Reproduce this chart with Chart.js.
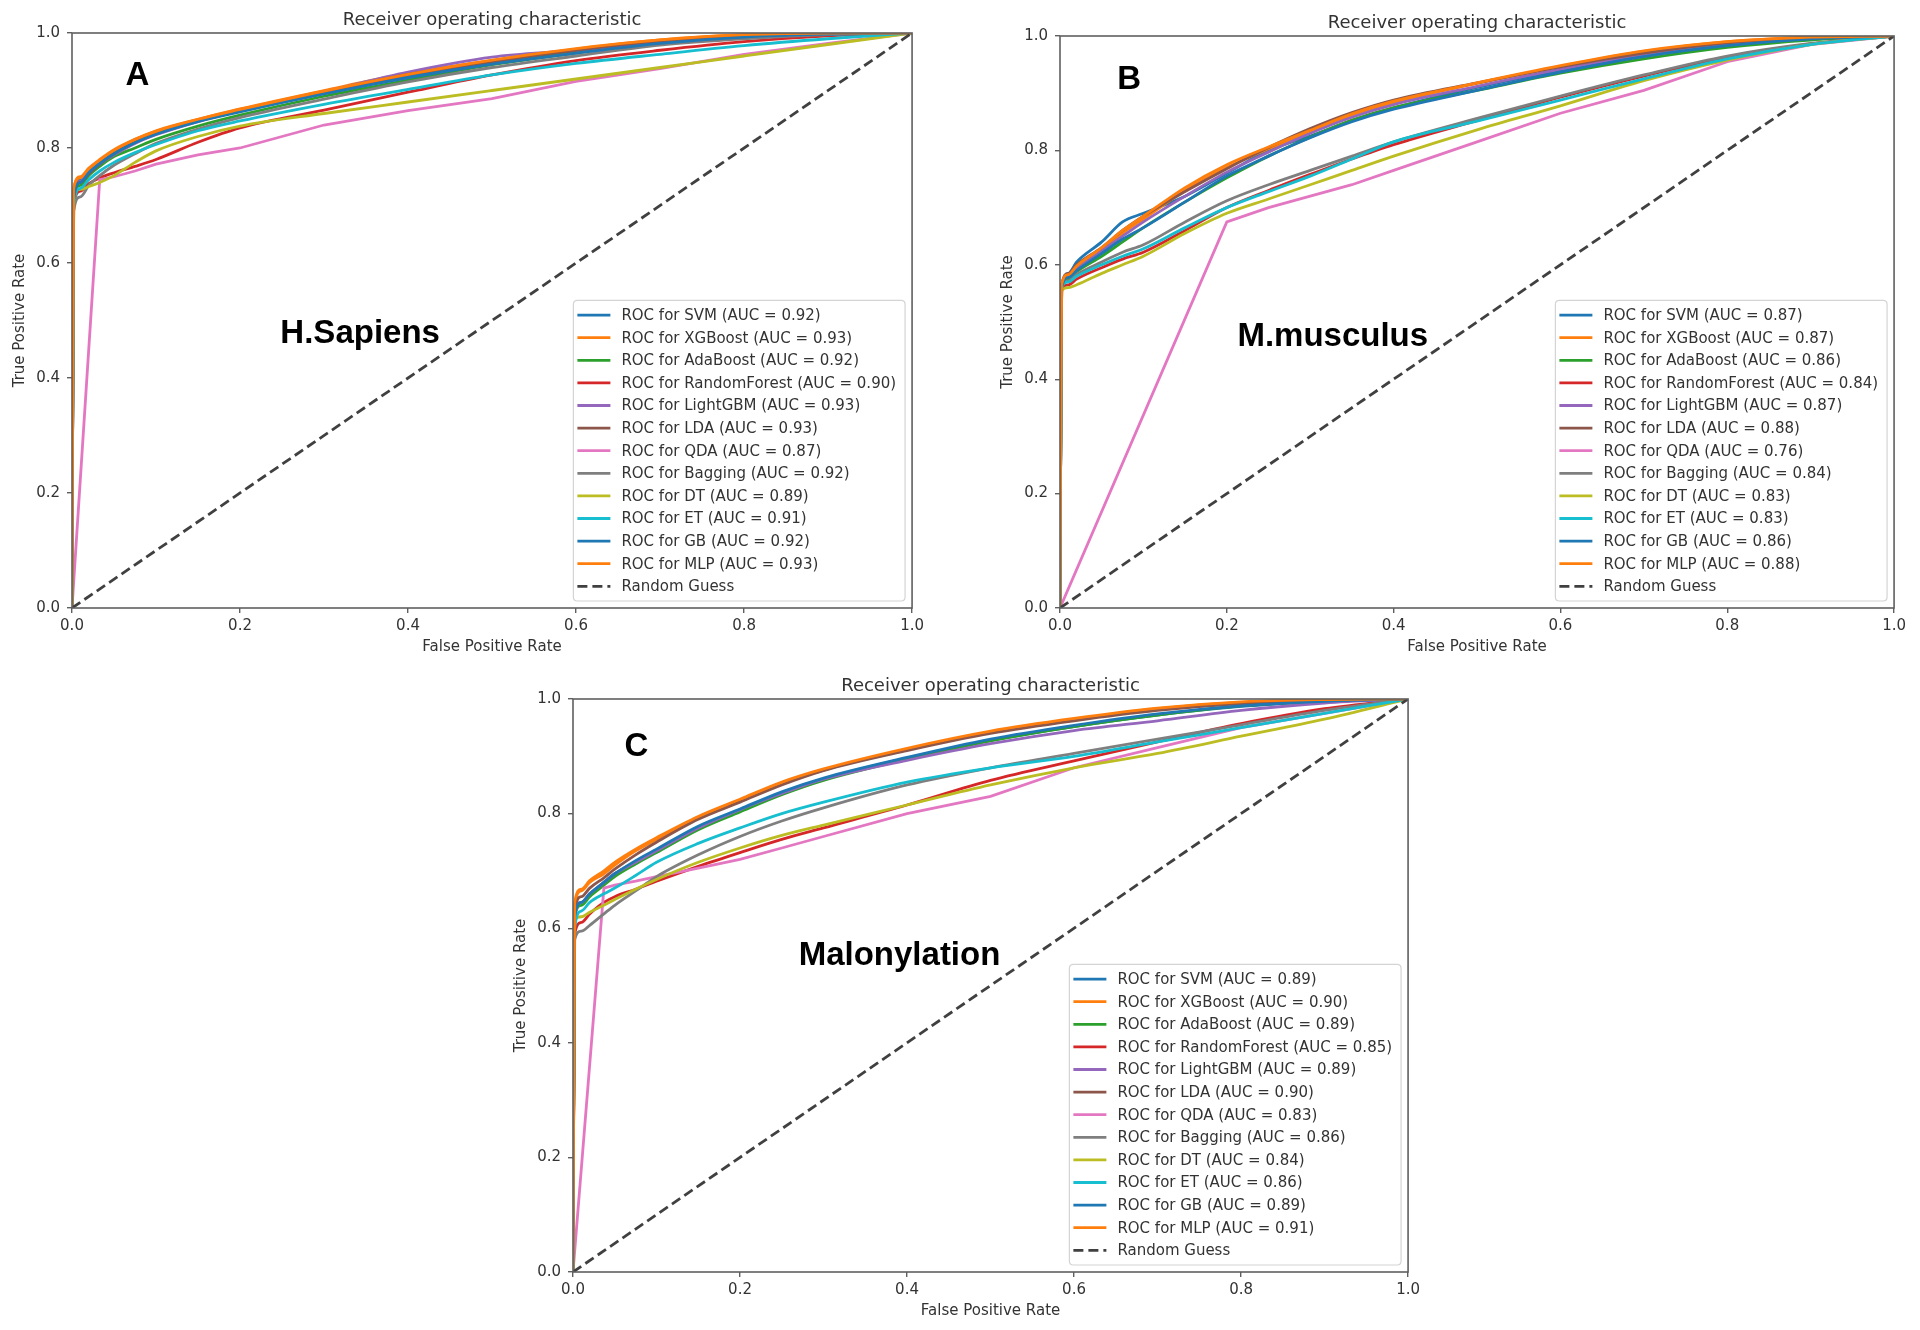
<!DOCTYPE html>
<html><head><meta charset="utf-8">
<style>
html,body{margin:0;padding:0;background:#fff;width:1920px;height:1330px;overflow:hidden;}
canvas{position:absolute;}
</style>
<script src="https://cdn.jsdelivr.net/npm/chart.js"></script>
</head><body>
<canvas id="cA"></canvas><canvas id="cB"></canvas><canvas id="cC"></canvas>
<script>
// ---------- data ----------
const MODELS = ['SVM','XGBoost','AdaBoost','RandomForest','LightGBM','LDA','QDA','Bagging','DT','ET','GB','MLP'];
const AUC_A = [0.92,0.93,0.92,0.90,0.93,0.93,0.87,0.92,0.89,0.91,0.92,0.93];
const AUC_B = [0.87,0.87,0.86,0.84,0.87,0.88,0.76,0.84,0.83,0.83,0.86,0.88];
const AUC_C = [0.89,0.90,0.89,0.85,0.89,0.90,0.83,0.86,0.84,0.86,0.89,0.91];
const AXIS_TICKS = [0, 0.2, 0.4, 0.6, 0.8, 1.0];
const GUESS_X = [0, 1];
const GUESS_Y = [0, 1];

// Panel A: H.Sapiens
const fprA = [0, 0.002, 0.01, 0.02, 0.033, 0.05, 0.075, 0.1, 0.15, 0.2, 0.3, 0.4, 0.5, 0.6, 0.7, 0.8, 0.9, 1];
const A_SVM  = [0, 0.72, 0.745, 0.76, 0.775, 0.79, 0.81, 0.825, 0.848, 0.865, 0.895, 0.925, 0.948, 0.967, 0.984, 0.995, 0.999, 1];
const A_XGB  = [0, 0.73, 0.748, 0.762, 0.778, 0.795, 0.815, 0.83, 0.85, 0.868, 0.9, 0.93, 0.952, 0.972, 0.988, 0.997, 1, 1];
const A_ADA  = [0, 0.71, 0.735, 0.752, 0.768, 0.785, 0.8, 0.815, 0.838, 0.857, 0.89, 0.918, 0.945, 0.965, 0.982, 0.993, 0.998, 1];
const A_RF   = [0, 0.7, 0.725, 0.738, 0.748, 0.757, 0.768, 0.78, 0.81, 0.835, 0.866, 0.897, 0.927, 0.952, 0.97, 0.985, 0.995, 1];
const A_LGBM = [0, 0.72, 0.742, 0.757, 0.772, 0.788, 0.808, 0.823, 0.846, 0.865, 0.898, 0.932, 0.958, 0.97, 0.985, 0.995, 0.999, 1];
const A_LDA  = [0, 0.72, 0.74, 0.755, 0.772, 0.79, 0.81, 0.826, 0.847, 0.864, 0.897, 0.928, 0.95, 0.97, 0.986, 0.996, 1, 1];
const A_QDA  = [0, null, null, null, 0.745, 0.75, 0.76, 0.772, 0.788, 0.8, 0.84, 0.865, 0.886, 0.916, 0.938, 0.963, 0.982, 1];
const A_BAG  = [0, 0.69, 0.715, 0.735, 0.752, 0.77, 0.79, 0.808, 0.833, 0.853, 0.885, 0.915, 0.94, 0.96, 0.979, 0.99, 0.997, 1];
const A_DT   = [0, 0.72, 0.728, 0.733, 0.74, 0.752, 0.775, 0.795, 0.82, 0.838, 0.86, 0.88, 0.9, 0.92, 0.94, 0.96, 0.98, 1];
const A_ET   = [0, 0.7, 0.73, 0.745, 0.76, 0.775, 0.792, 0.806, 0.83, 0.847, 0.876, 0.902, 0.927, 0.947, 0.963, 0.978, 0.99, 1];
const A_GB   = [0, 0.71, 0.74, 0.757, 0.773, 0.79, 0.809, 0.824, 0.846, 0.863, 0.894, 0.922, 0.946, 0.965, 0.982, 0.993, 0.998, 1];
const A_MLP  = [0, 0.73, 0.75, 0.765, 0.78, 0.797, 0.815, 0.829, 0.85, 0.867, 0.899, 0.928, 0.953, 0.973, 0.988, 0.997, 1, 1];

// Panel B: M.musculus
const fprB = [0, 0.002, 0.01, 0.02, 0.05, 0.075, 0.1, 0.15, 0.2, 0.25, 0.3, 0.35, 0.4, 0.5, 0.6, 0.7, 0.8, 0.9, 1];
const B_SVM  = [0, 0.56, 0.585, 0.605, 0.64, 0.675, 0.69, 0.72, 0.76, 0.8, 0.825, 0.852, 0.874, 0.91, 0.94, 0.966, 0.985, 0.996, 1];
const B_XGB  = [0, 0.565, 0.58, 0.595, 0.625, 0.655, 0.68, 0.73, 0.77, 0.803, 0.833, 0.862, 0.884, 0.917, 0.947, 0.973, 0.99, 0.998, 1];
const B_ADA  = [0, 0.56, 0.575, 0.588, 0.615, 0.64, 0.665, 0.71, 0.752, 0.79, 0.823, 0.853, 0.875, 0.905, 0.935, 0.96, 0.98, 0.993, 1];
const B_RF   = [0, 0.555, 0.565, 0.575, 0.595, 0.61, 0.622, 0.66, 0.7, 0.73, 0.758, 0.785, 0.81, 0.852, 0.893, 0.93, 0.962, 0.986, 1];
const B_LGBM = [0, 0.56, 0.58, 0.595, 0.625, 0.65, 0.675, 0.72, 0.762, 0.797, 0.83, 0.858, 0.88, 0.912, 0.942, 0.968, 0.986, 0.997, 1];
const B_LDA  = [0, 0.565, 0.585, 0.6, 0.63, 0.66, 0.685, 0.728, 0.768, 0.805, 0.838, 0.866, 0.888, 0.918, 0.946, 0.97, 0.988, 0.997, 1];
const B_QDA  = [0, null, null, null, null, null, null, null, 0.675, 0.7, 0.72, 0.74, 0.765, 0.815, 0.865, 0.905, 0.955, 0.985, 1];
const B_BAG  = [0, 0.56, 0.572, 0.583, 0.605, 0.622, 0.635, 0.675, 0.712, 0.74, 0.765, 0.79, 0.815, 0.856, 0.895, 0.932, 0.965, 0.987, 1];
const B_DT   = [0, 0.555, 0.56, 0.565, 0.585, 0.6, 0.615, 0.655, 0.69, 0.715, 0.74, 0.765, 0.79, 0.836, 0.878, 0.922, 0.958, 0.985, 1];
const B_ET   = [0, 0.56, 0.57, 0.58, 0.6, 0.615, 0.628, 0.665, 0.7, 0.728, 0.755, 0.785, 0.815, 0.851, 0.888, 0.925, 0.96, 0.985, 1];
const B_GB   = [0, 0.56, 0.578, 0.59, 0.62, 0.645, 0.665, 0.71, 0.755, 0.79, 0.822, 0.85, 0.872, 0.905, 0.937, 0.964, 0.983, 0.995, 1];
const B_MLP  = [0, 0.565, 0.583, 0.598, 0.63, 0.66, 0.685, 0.735, 0.775, 0.806, 0.835, 0.864, 0.886, 0.918, 0.948, 0.974, 0.99, 0.998, 1];

// Panel C: Malonylation
const fprC = [0, 0.002, 0.01, 0.02, 0.037, 0.05, 0.075, 0.1, 0.15, 0.2, 0.25, 0.3, 0.4, 0.5, 0.6, 0.7, 0.8, 0.9, 1];
const C_SVM  = [0, 0.62, 0.645, 0.66, 0.68, 0.695, 0.715, 0.735, 0.775, 0.805, 0.835, 0.86, 0.897, 0.928, 0.952, 0.972, 0.987, 0.996, 1];
const C_XGB  = [0, 0.64, 0.665, 0.68, 0.695, 0.71, 0.735, 0.755, 0.793, 0.822, 0.852, 0.876, 0.912, 0.942, 0.964, 0.983, 0.994, 0.998, 1];
const C_ADA  = [0, 0.62, 0.64, 0.655, 0.675, 0.69, 0.712, 0.732, 0.772, 0.803, 0.833, 0.858, 0.895, 0.927, 0.952, 0.972, 0.988, 0.996, 1];
const C_RF   = [0, 0.59, 0.61, 0.625, 0.645, 0.655, 0.668, 0.682, 0.708, 0.732, 0.755, 0.775, 0.815, 0.858, 0.892, 0.925, 0.957, 0.983, 1];
const C_LGBM = [0, 0.62, 0.645, 0.66, 0.68, 0.695, 0.715, 0.735, 0.775, 0.807, 0.835, 0.86, 0.893, 0.922, 0.945, 0.962, 0.98, 0.993, 1];
const C_LDA  = [0, 0.63, 0.655, 0.67, 0.688, 0.703, 0.728, 0.75, 0.79, 0.82, 0.85, 0.875, 0.91, 0.94, 0.962, 0.98, 0.992, 0.998, 1];
const C_QDA  = [0, null, null, null, 0.67, 0.675, 0.682, 0.69, 0.705, 0.72, 0.74, 0.76, 0.8, 0.83, 0.88, 0.915, 0.95, 0.975, 1];
const C_BAG  = [0, 0.58, 0.595, 0.605, 0.625, 0.64, 0.665, 0.69, 0.728, 0.76, 0.787, 0.81, 0.85, 0.88, 0.905, 0.93, 0.955, 0.98, 1];
const C_DT   = [0, 0.615, 0.62, 0.628, 0.64, 0.65, 0.668, 0.685, 0.715, 0.74, 0.762, 0.78, 0.815, 0.85, 0.88, 0.905, 0.935, 0.965, 1];
const C_ET   = [0, 0.6, 0.63, 0.645, 0.66, 0.67, 0.692, 0.715, 0.748, 0.775, 0.8, 0.82, 0.855, 0.88, 0.9, 0.925, 0.95, 0.975, 1];
const C_GB   = [0, 0.62, 0.645, 0.66, 0.68, 0.695, 0.718, 0.738, 0.778, 0.808, 0.838, 0.862, 0.898, 0.93, 0.954, 0.974, 0.988, 0.996, 1];
const C_MLP  = [0, 0.645, 0.668, 0.683, 0.7, 0.715, 0.738, 0.758, 0.795, 0.825, 0.855, 0.878, 0.914, 0.944, 0.966, 0.984, 0.995, 0.999, 1];

// ---------- styling ----------
const TEXT = '#333333';
const AXIS = '#5f5f5f';
const COLORS = ['#1f77b4','#ff7f0e','#2ca02c','#d62728','#9467bd','#8c564b','#e377c2','#7f7f7f','#bcbd22','#17becf','#1f77b4','#ff7f0e'];
const STRAIGHT_MODEL = 'QDA';

Chart.defaults.font.family = '"DejaVu Sans", sans-serif';
Chart.defaults.color = TEXT;

function buildDatasets(fpr, series, aucs) {
  const ds = series.map((tpr, i) => {
    const straight = MODELS[i] === STRAIGHT_MODEL;
    return {
      label: 'ROC for ' + MODELS[i] + ' (AUC = ' + aucs[i].toFixed(2) + ')',
      data: fpr.map((x, j) => ({x: x, y: tpr[j]})),
      borderColor: COLORS[i],
      backgroundColor: COLORS[i],
      borderWidth: 2.8,
      pointRadius: 0,
      fill: false,
      spanGaps: true,
      cubicInterpolationMode: straight ? 'default' : 'monotone',
      tension: 0,
      order: 30 - i
    };
  });
  ds.push({
    label: 'Random Guess',
    data: GUESS_X.map((x, j) => ({x: x, y: GUESS_Y[j]})),
    borderColor: '#404040',
    borderDash: [10, 5],
    borderWidth: 2.8,
    pointRadius: 0,
    fill: false,
    tension: 0,
    order: 0
  });
  return ds;
}

const decor = {
  id: 'decor',
  afterDatasetsDraw(chart, args, o) {
    const {ctx, chartArea: a} = chart;
    ctx.save();
    ctx.strokeStyle = AXIS;
    ctx.lineWidth = 1.6;
    ctx.strokeRect(a.left, a.top, a.right - a.left, a.bottom - a.top);
    ctx.restore();
  },
  afterDraw(chart, args, o) {
    const {ctx, chartArea: a} = chart;
    const sx = chart.scales.x, sy = chart.scales.y;
    ctx.save();
    // title
    ctx.fillStyle = TEXT;
    ctx.font = '18px "DejaVu Sans"';
    ctx.textAlign = 'center';
    ctx.textBaseline = 'middle';
    ctx.fillText(o.title, (a.left + a.right) / 2, a.top - 13);
    // panel letter and name
    ctx.fillStyle = '#000';
    ctx.font = 'bold 33px "Liberation Sans"';
    ctx.fillText(o.letter, sx.getPixelForValue(o.letterAt[0]), sy.getPixelForValue(o.letterAt[1]));
    ctx.fillText(o.name, sx.getPixelForValue(o.nameAt[0]), sy.getPixelForValue(o.nameAt[1]));
    // legend
    const items = chart.data.datasets;
    ctx.font = '15px "DejaVu Sans"';
    let maxW = 0;
    items.forEach(d => { maxW = Math.max(maxW, ctx.measureText(d.label).width); });
    const pitch = 22.6, padTop = 14.7;
    const w = 48 + maxW + 9;
    const h = padTop * 2 + pitch * (items.length - 1);
    const bx = a.right - 7 - w, by = a.bottom - 7 - h;
    const r = 4;
    ctx.beginPath();
    ctx.moveTo(bx + r, by);
    ctx.lineTo(bx + w - r, by);
    ctx.quadraticCurveTo(bx + w, by, bx + w, by + r);
    ctx.lineTo(bx + w, by + h - r);
    ctx.quadraticCurveTo(bx + w, by + h, bx + w - r, by + h);
    ctx.lineTo(bx + r, by + h);
    ctx.quadraticCurveTo(bx, by + h, bx, by + h - r);
    ctx.lineTo(bx, by + r);
    ctx.quadraticCurveTo(bx, by, bx + r, by);
    ctx.closePath();
    ctx.fillStyle = 'rgba(255,255,255,0.85)';
    ctx.fill();
    ctx.strokeStyle = '#d4d4d4';
    ctx.lineWidth = 1.2;
    ctx.stroke();
    ctx.textAlign = 'left';
    ctx.textBaseline = 'middle';
    items.forEach((d, i) => {
      const cy = by + padTop + i * pitch;
      ctx.beginPath();
      ctx.setLineDash(d.borderDash || []);
      ctx.strokeStyle = d.borderColor;
      ctx.lineWidth = d.borderWidth;
      ctx.moveTo(bx + 4, cy);
      ctx.lineTo(bx + 37, cy);
      ctx.stroke();
      ctx.setLineDash([]);
      ctx.fillStyle = TEXT;
      ctx.fillText(d.label, bx + 48, cy + 1);
    });
    ctx.restore();
  }
};

function makeChart(id, pos, fpr, series, aucs, decorOpts) {
  const cv = document.getElementById(id);
  const W = pos.w + 72 + 14, H = pos.h + 33 + 60;
  cv.width = W; cv.height = H;
  cv.style.left = (pos.left - 72) + 'px';
  cv.style.top = (pos.top - 33) + 'px';
  cv.style.width = W + 'px';
  cv.style.height = H + 'px';
  const tickCfg = {
    stepSize: 0.2,
    callback: v => Number(v).toFixed(1),
    font: {size: 15},
    color: TEXT,
    maxRotation: 0,
    autoSkip: false
  };
  new Chart(cv, {
    type: 'line',
    data: {datasets: buildDatasets(fpr, series, aucs)},
    options: {
      responsive: false,
      animation: false,
      devicePixelRatio: 1,
      layout: {padding: {left: 0, top: 33, right: 14, bottom: 0}},
      plugins: {legend: {display: false}, tooltip: {enabled: false}, decor: decorOpts},
      scales: {
        x: {
          type: 'linear', min: AXIS_TICKS[0], max: AXIS_TICKS[AXIS_TICKS.length - 1],
          ticks: Object.assign({}, tickCfg, {padding: 4}),
          grid: {drawOnChartArea: false, tickLength: 5, color: AXIS, lineWidth: 1.4},
          border: {display: false},
          title: {display: true, text: 'False Positive Rate', font: {size: 15}, color: TEXT, padding: {top: 0, bottom: 12}},
          afterFit: s => { s.height = 60; }
        },
        y: {
          type: 'linear', min: AXIS_TICKS[0], max: AXIS_TICKS[AXIS_TICKS.length - 1],
          ticks: Object.assign({}, tickCfg, {padding: 7}),
          grid: {drawOnChartArea: false, tickLength: 5, color: AXIS, lineWidth: 1.4},
          border: {display: false},
          title: {display: true, text: 'True Positive Rate', font: {size: 15}, color: TEXT, padding: {top: 11, bottom: 0}},
          afterFit: s => { s.width = 72; }
        }
      }
    },
    plugins: [decor]
  });
}

const TITLE = 'Receiver operating characteristic';
makeChart('cA', {left: 72, top: 33, w: 842, h: 575}, fprA,
  [A_SVM, A_XGB, A_ADA, A_RF, A_LGBM, A_LDA, A_QDA, A_BAG, A_DT, A_ET, A_GB, A_MLP], AUC_A,
  {title: TITLE, letter: 'A', letterAt: [0.078, 0.925], name: 'H.Sapiens', nameAt: [0.343, 0.4765]});
makeChart('cB', {left: 1060, top: 36, w: 836, h: 572}, fprB,
  [B_SVM, B_XGB, B_ADA, B_RF, B_LGBM, B_LDA, B_QDA, B_BAG, B_DT, B_ET, B_GB, B_MLP], AUC_B,
  {title: TITLE, letter: 'B', letterAt: [0.083, 0.924], name: 'M.musculus', nameAt: [0.327, 0.474]});
makeChart('cC', {left: 573, top: 699, w: 837, h: 573}, fprC,
  [C_SVM, C_XGB, C_ADA, C_RF, C_LGBM, C_LDA, C_QDA, C_BAG, C_DT, C_ET, C_GB, C_MLP], AUC_C,
  {title: TITLE, letter: 'C', letterAt: [0.076, 0.916], name: 'Malonylation', nameAt: [0.391, 0.551]});
</script>
</body></html>
